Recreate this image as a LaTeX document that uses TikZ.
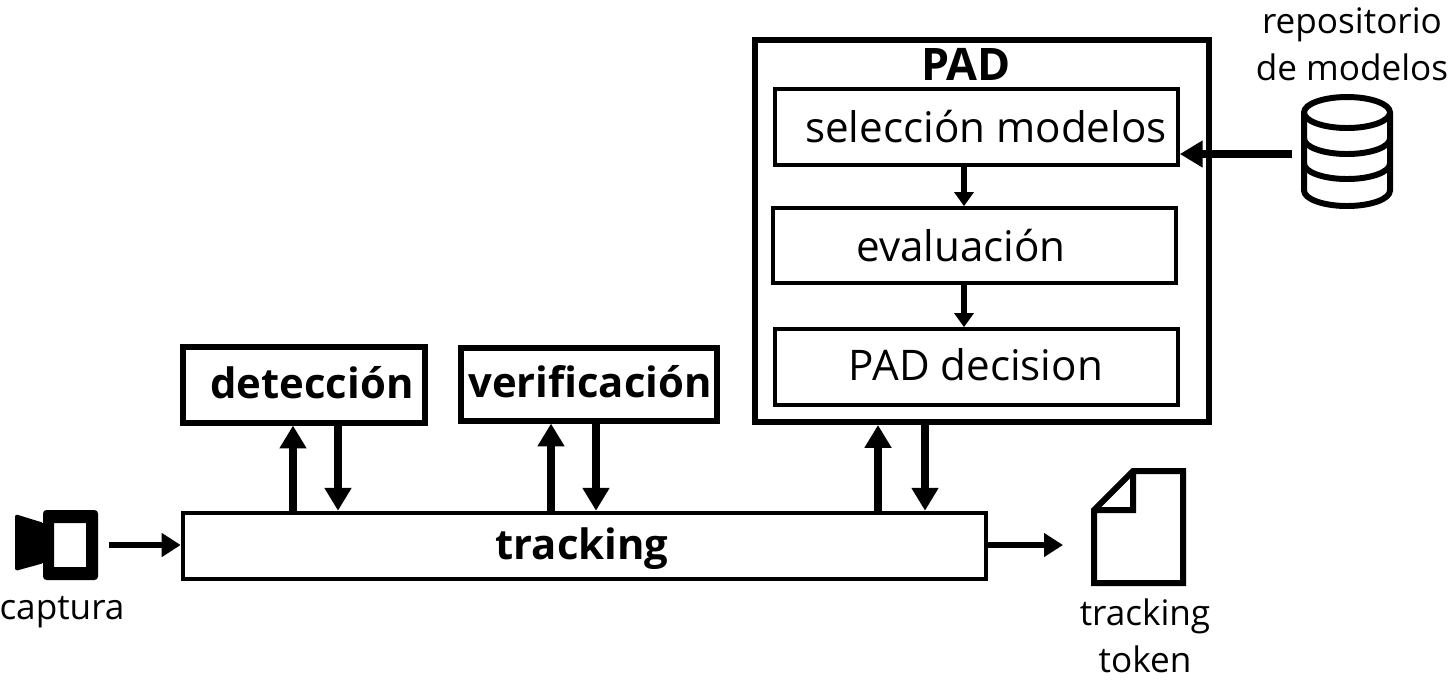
\documentclass[tikz,border=0pt]{standalone}
\usepackage{fontspec}
\setmainfont{Open Sans}
\usetikzlibrary{arrows.meta}

\tikzset{
  box/.style={draw, line width=2.9pt, inner sep=0pt},
  padbox/.style={draw, line width=3.4pt, inner sep=0pt},
  thinbox/.style={draw, line width=2.1pt, inner sep=0pt},
  arrow/.style={-{Triangle[length=13pt, width=14.6pt]}, line width=4.2pt},
  sidearrow/.style={-{Triangle[length=10.8pt, width=13pt]}, line width=3.8pt},
  thinarrow/.style={-{Triangle[length=8pt, width=10.8pt]}, line width=2.9pt},
  lbl/.style={font=\fontsize{24}{29}\selectfont, inner sep=0pt, anchor=base},
  boldlbl/.style={font=\fontsize{23.8}{29}\selectfont\bfseries, inner sep=0pt, anchor=base},
  smalllbl/.style={font=\fontsize{20}{26.5}\selectfont, inner sep=0pt, align=center},
  icon/.style={line width=3.4pt, line join=round}
}

\begin{document}
\begin{tikzpicture}[x=0.02cm, y=-0.02cm]
  \useasboundingbox (0,0) rectangle (1449,681);

  % PAD block
  \node[padbox, minimum width=454*0.02cm, minimum height=382*0.02cm] (pad) at (982,231) {};
  \node[boldlbl, font=\fontsize{25.5}{29}\selectfont\bfseries] (padtitle) at (966,80) {PAD};
  \node[thinbox, minimum width=403*0.02cm, minimum height=76*0.02cm] (seleccion) at (976.5,127) {};
  \node[thinbox, minimum width=403*0.02cm, minimum height=75*0.02cm] (evaluacion) at (974.5,245.5) {};
  \node[thinbox, minimum width=403*0.02cm, minimum height=76*0.02cm] (decision) at (976.5,367) {};
  \node[lbl] (seleccionlbl) at (986,142) {selección modelos};
  \node[lbl] (evaluacionlbl) at (961,261) {evaluación};
  \node[lbl] (decisionlbl) at (976,380) {PAD decision};

  % Lower blocks
  \node[box, minimum width=242*0.02cm, minimum height=76*0.02cm] (deteccion) at (304,385) {};
  \node[boldlbl] (deteccionlbl) at (312,398) {detección};
  \node[box, minimum width=256*0.02cm, minimum height=73*0.02cm] (verificacion) at (589,384.5) {};
  \node[boldlbl] (verificacionlbl) at (590,397) {verificación};
  \node[box, line width=2.6pt, minimum width=803*0.02cm, minimum height=66*0.02cm] (tracking) at (584.5,546) {};
  \node[boldlbl] (trackinglbl) at (582,559) {tracking};

  % Camera
  \fill[even odd rule] [rounded corners=2pt] (43,510) rectangle (98,580)
    [sharp corners] (54,523) rectangle (86,567);
  \fill[rounded corners=1.5pt] (44,523) -- (15,514) -- (15,571) -- (44,563) -- cycle;
  \node[smalllbl] (captura) at (62,612) {captura};

  % Token
  \draw[icon, line join=miter] (1094,510) -- (1133,471) -- (1183,471) -- (1183,583) -- (1094,583) -- cycle
    (1094,510) -- (1133,510) -- (1133,471);
  \node[smalllbl] (tokenlbl) at (1145,636) {tracking\\token};

  % Repository
  \draw[icon] (1347,112.5) ellipse (43 and 15.5);
  \draw[icon] (1304,112.5) -- (1304,190.5) arc[start angle=180, end angle=0, x radius=43, y radius=15.5]
    -- (1390,112.5);
  \draw[icon] (1304,138.5) arc[start angle=180, end angle=0, x radius=43, y radius=15.5];
  \draw[icon] (1304,163.5) arc[start angle=180, end angle=0, x radius=43, y radius=15.5];
  \node[smalllbl] (repolbl) at (1352,44) {repositorio\\de modelos};

  % Ports
  \coordinate (camport) at (109,545);
  \coordinate (tokenport) at (1063,545);
  \coordinate (dbport) at (1292,154);
  \coordinate (detup) at (293,0);
  \coordinate (detdown) at (338,0);
  \coordinate (verup) at (551,0);
  \coordinate (verdown) at (596,0);
  \coordinate (padup) at (878,0);
  \coordinate (paddown) at (925,0);
  \coordinate (selout) at (964,0);

  % Connectors
  \draw[sidearrow] (camport) -- (tracking.west |- camport);
  \draw[sidearrow] (tracking.east |- tokenport) -- (tokenport);
  \draw[arrow, line width=4.6pt] (dbport) -- (seleccion.east |- dbport);
  \draw[arrow] (detup |- tracking.north) -- (detup |- deteccion.south);
  \draw[arrow] (detdown |- deteccion.south) -- (detdown |- tracking.north);
  \draw[arrow] (verup |- tracking.north) -- (verup |- verificacion.south);
  \draw[arrow] (verdown |- verificacion.south) -- (verdown |- tracking.north);
  \draw[arrow] (padup |- tracking.north) -- (padup |- pad.south);
  \draw[arrow] (paddown |- pad.south) -- (paddown |- tracking.north);
  \draw[thinarrow] (selout |- seleccion.south) -- (selout |- evaluacion.north);
  \draw[thinarrow] (selout |- evaluacion.south) -- (selout |- decision.north);
\end{tikzpicture}
\end{document}
